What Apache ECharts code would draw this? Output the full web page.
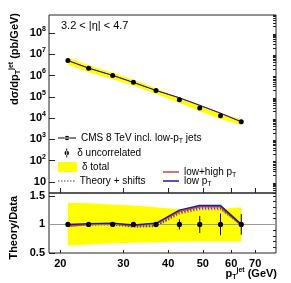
<!DOCTYPE html>
<html><head><meta charset="utf-8">
<script src="https://cdn.jsdelivr.net/npm/echarts@6/dist/echarts.min.js"></script>
<style>html,body{margin:0;padding:0;background:#fff}#c{width:291px;height:283px}</style>
</head><body><div id="c"></div>
<script>
// ---- data ----
const pt = [21, 24, 28, 32, 37, 43, 49, 56, 64];                       // jet pT (GeV)
const xsec = [5.1e6, 2.2e6, 1.0e6, 4.8e5, 1.95e5, 7.2e4, 3.0e4, 1.28e4, 6.7e3]; // pb/GeV
const uncErr = [0.005, 0.005, 0.005, 0.008, 0.01, 0.09, 0.15, 0.19, 0.18]; // delta uncorrelated (rel.)
const totUp = [1.38, 1.37, 1.35, 1.33, 1.30, 1.26, 1.26, 1.27, 1.30];   // delta total upper (ratio)
const totDn = [0.63, 0.65, 0.67, 0.68, 0.69, 0.70, 0.70, 0.70, 0.70];   // delta total lower (ratio)
const lowHigh = [0.97, 1.00, 1.01, 0.98, 1.01, 1.23, 1.31, 1.31, 0.99]; // theory/data low+high pT
const lowPt = [1.00, 1.01, 1.02, 0.99, 1.02, 1.25, 1.33, 1.33, 1.00];   // theory/data low pT
const shiftA = [0.98, 0.99, 1.00, 0.96, 0.97, 1.20, 1.28, 1.28, 0.99];  // theory + shifts
const shiftB = [0.97, 0.99, 0.99, 0.95, 0.96, 1.18, 1.26, 1.26, 0.98];
const shiftC = [0.99, 1.00, 1.00, 0.97, 0.98, 1.22, 1.29, 1.29, 1.00];
const xTicks = [20, 30, 40, 50, 60, 70];
const yTicks = [10, 1e2, 1e3, 1e4, 1e5, 1e6, 1e7, 1e8];
const rTicks = [0.5, 1, 1.5];

const NAME_DATA = 'CMS 8 TeV incl. low-pT jets';
const NAME_UNC = 'δ uncorrelated';
const NAME_TOT = 'δ total';
const NAME_SHIFT = 'Theory + shifts';
const NAME_LH = 'low+high pT';
const NAME_LOW = 'low pT';

const yMinor = [];
for (let e = 0; e <= 8; e++) for (let k = 2; k <= 9; k++) { const v = k * Math.pow(10, e); if (v >= 3 && v <= 7e8) yMinor.push(v); }
const rMinor = [];
for (let v = 0.6; v < 1.55; v += 0.1) rMinor.push(Math.round(v * 10) / 10);

const FONT = '"Liberation Sans", Arial, Helvetica, sans-serif';

function bandSeries(name, xi, yi, lo, hi) {
  return {
    type: 'custom', name, xAxisIndex: xi, yAxisIndex: yi, z: 1, clip: true,
    itemStyle: { color: '#ffff00' },
    data: pt.map((x, i) => [x, lo[i], hi[i]]),
    renderItem(params, api) {
      if (params.dataIndex !== 0) return null;
      const pts = [];
      for (let i = 0; i < pt.length; i++) pts.push(api.coord([pt[i], hi[i]]));
      for (let i = pt.length - 1; i >= 0; i--) pts.push(api.coord([pt[i], lo[i]]));
      return { type: 'polygon', shape: { points: pts }, style: { fill: '#ffff00', stroke: null } };
    }
  };
}
function lineSeries(name, xi, yi, vals, color, type, width, z) {
  return {
    type: 'line', name, xAxisIndex: xi, yAxisIndex: yi, z: z || 3,
    data: pt.map((x, i) => [x, vals[i]]), showSymbol: false, symbol: 'none',
    lineStyle: { color, width, type }, itemStyle: { color }, animation: false
  };
}
const topLH = xsec.map((v, i) => v * lowHigh[i]);
const topLow = xsec.map((v, i) => v * lowPt[i]);
const topUp = xsec.map((v, i) => v * totUp[i]);
const topDn = xsec.map((v, i) => v * totDn[i]);

const series = [
  bandSeries(NAME_TOT, 0, 0, topDn, topUp),
  lineSeries(NAME_LH, 0, 0, topLH, '#c04848', 'solid', 1, 3),
  lineSeries(NAME_LOW, 0, 0, topLow, '#1c1c8c', 'solid', 1, 4),
  {
    type: 'line', name: NAME_DATA, xAxisIndex: 0, yAxisIndex: 0, z: 6,
    data: pt.map((x, i) => [x, xsec[i]]), symbol: 'circle', symbolSize: 5,
    lineStyle: { width: 0, opacity: 0, color: '#000' }, itemStyle: { color: '#000' }
  },
  bandSeries(NAME_TOT, 1, 1, totDn, totUp),
  lineSeries(NAME_SHIFT, 1, 1, shiftB, '#d08030', [1.5, 1.5], 1.2, 3),
  lineSeries(NAME_SHIFT, 1, 1, shiftA, '#b03a3a', [1.5, 1.5], 1.2, 3),
  lineSeries(NAME_SHIFT, 1, 1, shiftC, '#3a3aa0', [1.5, 1.5], 1.2, 3),
  lineSeries(NAME_LH, 1, 1, lowHigh, '#c04848', 'solid', 1.5, 4),
  Object.assign(lineSeries(NAME_LOW, 1, 1, lowPt, '#1c1c9c', 'solid', 1.5, 5), {
    markLine: { silent: true, symbol: 'none', label: { show: false }, animation: false,
      lineStyle: { color: '#999', width: 1, type: 'solid' }, data: [{ yAxis: 1 }] }
  }),
  {
    type: 'custom', name: NAME_UNC, xAxisIndex: 1, yAxisIndex: 1, z: 7, clip: true,
    itemStyle: { color: '#000' },
    data: pt.map((x, i) => [x, 1, uncErr[i]]),
    renderItem(params, api) {
      const x = api.value(0), y = api.value(1), e = api.value(2);
      const p = api.coord([x, y]), a = api.coord([x, y + e]), b = api.coord([x, y - e]);
      return { type: 'group', children: [
        { type: 'line', shape: { x1: a[0], y1: a[1], x2: b[0], y2: b[1] }, style: { stroke: '#000', lineWidth: 1 } },
        { type: 'circle', shape: { cx: p[0], cy: p[1], r: 2.6 }, style: { fill: '#000' } }
      ] };
    }
  }
];

const richSub = {
  s: { fontSize: 7, padding: [6, 0, 0, 0], fontFamily: FONT, color: '#000' },
  e: { fontSize: 7, padding: [0, 0, 7, 0], fontFamily: FONT, color: '#000', fontWeight: 'bold' }
};
function legendFmt(name) {
  if (name === NAME_DATA) return 'CMS 8 TeV incl. low-p{s|T} jets';
  if (name === NAME_LH) return 'low+high p{s|T}';
  if (name === NAME_LOW) return 'low p{s|T}';
  return name;
}
function mkLegend(left, top, item, w, h) {
  return {
    left, top, padding: 0, itemGap: 0, itemWidth: w, itemHeight: h, selectedMode: false,
    data: [item], formatter: legendFmt,
    textStyle: { fontSize: 10, fontFamily: FONT, color: '#000', lineHeight: 12, rich: richSub }
  };
}
const LINE_ICON = 'path://M0,0H16V1.5H0Z';
const DOT_ICON = 'path://M0,0H1.5V1.2H0Z M3,0H4.5V1.2H3Z M6,0H7.5V1.2H6Z M9,0H10.5V1.2H9Z M12,0H13.5V1.2H12Z M15,0H16.5V1.2H15Z';

const option = {
  animation: false,
  grid: [
    { left: 49, right: 15, top: 15, height: 178, show: true, borderColor: '#222', borderWidth: 1, backgroundColor: 'transparent' },
    { left: 49, right: 15, top: 193, height: 60, show: true, borderColor: '#222', borderWidth: 1, backgroundColor: 'transparent' }
  ],
  xAxis: [
    { type: 'log', gridIndex: 0, min: 18.6, max: 80, axisLine: { show: false }, splitLine: { show: false },
      axisLabel: { show: false }, axisTick: { inside: true, length: 5, customValues: xTicks, lineStyle: { color: '#222' } } },
    { type: 'log', gridIndex: 1, min: 18.6, max: 80, axisLine: { show: false }, splitLine: { show: false },
      axisLabel: { customValues: xTicks, formatter: v => String(Math.round(v)), margin: 5,
        fontSize: 11, fontWeight: 'bold', fontFamily: FONT, color: '#000' },
      axisTick: { inside: true, length: 3, customValues: xTicks, lineStyle: { color: '#222' } } }
  ],
  yAxis: [
    { type: 'log', gridIndex: 0, min: 3, max: 7e8, axisLine: { show: false }, splitLine: { show: false },
      axisTick: { inside: true, length: 6, customValues: yTicks, lineStyle: { color: '#222' } },
      axisLabel: { customValues: yTicks, margin: 3, fontSize: 11, fontWeight: 'bold', fontFamily: FONT, color: '#000',
        formatter: v => { const e = Math.round(Math.log10(v)); return e === 1 ? '10' : '10{e|' + e + '}'; },
        rich: { e: { fontSize: 7, fontWeight: 'bold', fontFamily: FONT, color: '#000', padding: [0, 0, 8, 0] } } } },
    { type: 'value', gridIndex: 1, min: 0.5, max: 1.55, axisLine: { show: false }, splitLine: { show: false },
      axisTick: { inside: true, length: 6, customValues: rTicks, lineStyle: { color: '#222' } },
      axisLabel: { customValues: rTicks, margin: 4, fontSize: 11, fontWeight: 'bold', fontFamily: FONT, color: '#000',
        formatter: v => String(v) } },
    { type: 'log', gridIndex: 0, min: 3, max: 7e8, axisLine: { show: false }, splitLine: { show: false },
      axisLabel: { show: false }, axisTick: { inside: true, length: 3, customValues: yMinor, lineStyle: { color: '#222' } } },
    { type: 'value', gridIndex: 1, min: 0.5, max: 1.55, axisLine: { show: false }, splitLine: { show: false },
      axisLabel: { show: false }, axisTick: { inside: true, length: 3, customValues: rMinor, lineStyle: { color: '#222' } } }
  ],
  legend: [
    mkLegend(58, 132, { name: NAME_DATA, icon: 'path://M0,4.5H20V5.5H0Z M7.5,5A2.5,2.5 0 1 0 12.5,5A2.5,2.5 0 1 0 7.5,5Z' }, 18, 5),
    Object.assign(mkLegend(64.5, 147, { name: NAME_UNC, icon: 'path://M2,0H3V10H2Z M0,5A2.5,2.5 0 1 0 5,5A2.5,2.5 0 1 0 0,5Z' }, 5, 9),
      { textStyle: { fontSize: 10, fontFamily: FONT, color: '#000', lineHeight: 12, padding: [0, 0, 0, 3] } }),
    mkLegend(58, 161, { name: NAME_TOT, icon: 'rect', itemStyle: { color: '#ffff00' } }, 19, 10),
    mkLegend(58, 175, { name: NAME_SHIFT, icon: DOT_ICON, itemStyle: { color: '#444' } }, 17, 1.2),
    mkLegend(163, 166, { name: NAME_LH, icon: LINE_ICON, itemStyle: { color: '#c04848' } }, 16, 1.5),
    mkLegend(163, 175, { name: NAME_LOW, icon: LINE_ICON, itemStyle: { color: '#1c1c9c' } }, 16, 1.5)
  ],
  graphic: [
    { type: 'text', x: 61, y: 26, style: { text: '3.2 < |η| < 4.7', font: '11px ' + FONT, fill: '#000', textVerticalAlign: 'middle' } },
    { type: 'text', x: 15, y: 13, rotation: Math.PI / 2,
      style: { text: 'dσ/dp{s|T}{e|jet} (pb/GeV)', font: 'bold 11px ' + FONT, fill: '#000', textAlign: 'right', textVerticalAlign: 'middle',
        rich: { s: { fontSize: 7, fontWeight: 'bold', padding: [7, 0, 0, 0], fontFamily: FONT }, e: { fontSize: 7, fontWeight: 'bold', padding: [0, 0, 7, 0], fontFamily: FONT } } } },
    { type: 'text', x: 14, y: 196, rotation: Math.PI / 2,
      style: { text: 'Theory/Data', font: 'bold 11px ' + FONT, fill: '#000', textAlign: 'right', textVerticalAlign: 'middle' } },
    { type: 'text', x: 277, y: 274,
      style: { text: 'p{s|T}{e|jet} (GeV)', font: 'bold 11px ' + FONT, fill: '#000', textAlign: 'right', textVerticalAlign: 'middle',
        rich: { s: { fontSize: 7, fontWeight: 'bold', padding: [7, 0, 0, 0], fontFamily: FONT }, e: { fontSize: 7, fontWeight: 'bold', padding: [0, 0, 7, 0], fontFamily: FONT } } } }
  ],
  series
};
const chart = echarts.init(document.getElementById('c'), null, { renderer: 'canvas' });
chart.setOption(option);
</script></body></html>
